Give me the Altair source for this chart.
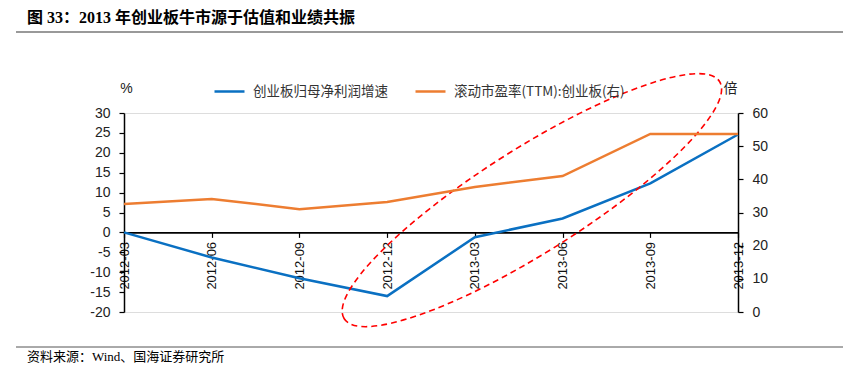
import json
import altair as alt
import pandas as pd

# ---------------- data ----------------
quarters = ["2012-03", "2012-06", "2012-09", "2012-12",
            "2013-03", "2013-06", "2013-09", "2013-12"]
profit_growth = [0.0, -6.3, -11.5, -16.0, -1.2, 3.5, 12.3, 24.6]   # % (left axis)
pe_ttm = [32.6, 34.1, 31.0, 33.2, 37.7, 41.0, 53.7, 53.7]          # 倍 (right axis)
series_names = ["创业板归母净利润增速", "滚动市盈率(TTM):创业板(右)"]
series_colors = ["#0A70C2", "#ED7D31"]
left_ticks = [30, 25, 20, 15, 10, 5, 0, -5, -10, -15, -20]
right_ticks = [0, 10, 20, 30, 40, 50, 60]
# annotation ellipse centre (x as quarter index, y on left axis)
ellipse_center = {"idx": [4.65], "v": [8.1]}

title_text = "图 33：2013 年创业板牛市源于估值和业绩共振"
source_text = "资料来源：Wind、国海证券研究所"

# ---------------- layout ----------------
W, H = 614, 199
PAD = {"left": 116, "top": 105, "right": 107, "bottom": 54}

df_left = pd.DataFrame({"idx": list(range(len(quarters))), "q": quarters,
                        "v": profit_growth, "s": series_names[0]})
df_right = pd.DataFrame({"idx": list(range(len(quarters))), "q": quarters,
                         "v": pe_ttm, "s": series_names[1]})

num_font = "Liberation Sans"
cjk_font = "Noto Sans CJK SC"
serif_font = "Liberation Serif, Noto Sans CJK SC"

label_expr = json.dumps(quarters) + "[datum.value]"

x_axis = alt.Axis(
    values=list(range(len(quarters))), labelExpr=label_expr,
    orient="bottom", offset=-(H * 20 / 50), grid=False,
    domainColor="black", domainWidth=1.8, tickColor="black", tickSize=5,
    tickWidth=1.2, labelAngle=270, labelAlign="right", labelBaseline="middle",
    labelFont=num_font, labelFontSize=13, labelColor="#111111",
    labelPadding=4, title=None, labelOverlap=False,
)
x_scale = alt.Scale(domain=[0, len(quarters) - 1], nice=False, zero=False)


def x_enc():
    return alt.X("idx:Q", scale=x_scale, axis=x_axis)


left_axis = alt.Axis(
    values=left_ticks, orient="left", grid=False, labelOverlap=False,
    labelExpr="'' + datum.value",
    domainColor="black", domainWidth=1.5, tickColor="black", tickSize=5,
    tickWidth=1.2, labelFont=num_font, labelFontSize=14,
    labelColor="#222222", labelPadding=9,
    title="%", titleAngle=0, titleX=2, titleY=-18, titleAlign="center",
    titleFont=num_font, titleFontSize=14, titleFontWeight="normal",
    titleColor="#222222",
)
left_scale = alt.Scale(domain=[-20, 30], nice=False, zero=False)


def y_left_enc():
    return alt.Y("v:Q", scale=left_scale, axis=left_axis)


color_enc = alt.Color(
    "s:N",
    scale=alt.Scale(domain=series_names, range=series_colors),
    legend=alt.Legend(
        orient="none", legendX=89, legendY=-38, direction="horizontal",
        title=None, symbolType="stroke", symbolSize=900, symbolStrokeWidth=2.5,
        labelFont=cjk_font, labelFontSize=13.5, labelColor="#333333",
        labelOffset=7, columnPadding=22, labelLimit=400, padding=0,
    ),
)

blue = alt.Chart(df_left).mark_line(strokeWidth=2.5).encode(
    x=x_enc(), y=y_left_enc(), color=color_enc,
)

ellipse_path = ("M 1 0 C 1 0.1292 0.5523 0.234 0 0.234 "
                "C -0.5523 0.234 -1 0.1292 -1 0 "
                "C -1 -0.1292 -0.5523 -0.234 0 -0.234 "
                "C 0.5523 -0.234 1 -0.1292 1 0 Z")
ellipse = alt.Chart(pd.DataFrame(ellipse_center)).mark_point(
    shape=ellipse_path, size=444 * 444, angle=147.7, filled=False,
    stroke="#FF0000", strokeWidth=1.6, strokeDash=[6, 4], opacity=1,
).encode(x=x_enc(), y=y_left_enc())

title = alt.Chart(pd.DataFrame({"t": [title_text]})).mark_text(
    align="left", baseline="middle", font=serif_font, fontSize=16,
    fontWeight="bold", color="#000000",
).encode(x=alt.value(-97), y=alt.value(-95), text="t:N")

title_rule = alt.Chart(pd.DataFrame({"a": [0]})).mark_rule(
    color="#999999", strokeWidth=2.2
).encode(x=alt.value(-108), x2=alt.value(719), y=alt.value(-81))

footer_rule = alt.Chart(pd.DataFrame({"a": [0]})).mark_rule(
    color="#555555", strokeWidth=1
).encode(x=alt.value(-108), x2=alt.value(719), y=alt.value(234))

footer = alt.Chart(pd.DataFrame({"t": [source_text]})).mark_text(
    align="left", baseline="middle", font=serif_font, fontSize=13,
    color="#000000",
).encode(x=alt.value(-97), y=alt.value(244), text="t:N")

orange = alt.Chart(df_right).mark_line(strokeWidth=2.5).encode(
    x=x_enc(),
    y=alt.Y(
        "v:Q",
        scale=alt.Scale(domain=[0, 60], nice=False, zero=False),
        axis=alt.Axis(
            values=right_ticks, orient="right", grid=False, labelOverlap=False,
            domainColor="black", domainWidth=1.5, tickColor="black", tickSize=5,
            tickWidth=1.2, labelFont=num_font, labelFontSize=14,
            labelColor="#222222", labelPadding=9,
            title="倍", titleAngle=0, titleX=-8, titleY=-18, titleAlign="center",
            titleFont=cjk_font, titleFontSize=14, titleFontWeight="normal",
            titleColor="#222222",
        ),
    ),
    color=color_enc,
)

left_layer = alt.layer(blue, ellipse, title, title_rule, footer_rule, footer)

chart = alt.layer(left_layer, orange).resolve_scale(
    y="independent"
).properties(
    width=W, height=H,
    autosize=alt.AutoSizeParams(type="none"),
    padding=PAD,
).configure_view(stroke=None).configure(background="white")

chart.save("out.html", embed_options={"renderer": "svg", "actions": False})
